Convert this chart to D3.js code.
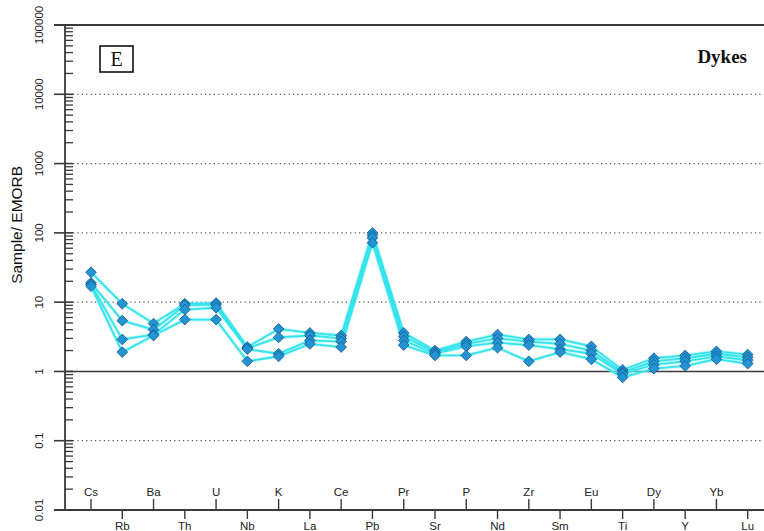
<!DOCTYPE html>
<html>
<head>
<meta charset="utf-8">
<script src="https://cdn.jsdelivr.net/npm/d3@7"></script>
<style>
  html, body { margin: 0; padding: 0; background: #fff; }
  svg { display: block; }
</style>
</head>
<body>
<svg id="chart" width="764" height="531"></svg>
<script>
// Spider diagram: trace elements normalised to E-MORB
const elements = ["Cs","Rb","Ba","Th","U","Nb","K","La","Ce","Pb","Pr","Sr","P","Nd","Zr","Sm","Eu","Ti","Dy","Y","Yb","Lu"];

const sample1 = [27, 9.5, 4.9, 9.5, 9.7, 2.25, 4.1, 3.6, 3.3, 100, 3.6, 2.0, 2.7, 3.4, 2.9, 2.9, 2.3, 1.05, 1.55, 1.7, 1.95, 1.75];
const sample2 = [19, 5.4, 4.0, 9.0, 9.2, 2.15, 3.1, 3.3, 3.0, 92, 3.2, 1.9, 2.5, 3.0, 2.7, 2.5, 2.0, 0.97, 1.4, 1.55, 1.8, 1.6];
const sample3 = [18, 2.9, 3.4, 7.8, 8.3, 2.1, 1.8, 2.8, 2.7, 85, 2.8, 1.8, 2.3, 2.6, 2.4, 2.1, 1.8, 0.92, 1.25, 1.4, 1.65, 1.45];
const sample4 = [17, 1.9, 3.3, 5.6, 5.6, 1.4, 1.65, 2.5, 2.25, 72, 2.4, 1.7, 1.7, 2.2, 1.4, 1.9, 1.5, 0.82, 1.1, 1.2, 1.5, 1.3];
const samples = [sample1, sample2, sample3, sample4];

const yTickValues = [0.01, 0.1, 1, 10, 100, 1000, 10000, 100000];
const yTickLabels = ["0.01", "0.1", "1", "10", "100", "1000", "10000", "100000"];
const gridValues = [0.1, 10, 100, 1000, 10000];

const panelLabel = "E";
const groupLabel = "Dykes";
const yTitle = "Sample/ EMORB";

const svg = d3.select("#chart");
const axisColor = "#3a3a3a";

const x = d3.scalePoint().domain(elements).range([91, 747.7]);
const y = d3.scaleLog().domain([0.01, 100000]).range([510, 25]);

const plotLeft = 65, plotRight = 764;

// dotted grid lines
svg.append("g").selectAll("line").data(gridValues).join("line")
  .attr("x1", 73).attr("x2", plotRight)
  .attr("y1", d => y(d)).attr("y2", d => y(d))
  .attr("stroke", "#555").attr("stroke-width", 1.2)
  .attr("stroke-dasharray", "1.2,3.2");

// reference line at 1
svg.append("line")
  .attr("x1", plotLeft).attr("x2", plotRight)
  .attr("y1", y(1)).attr("y2", y(1))
  .attr("stroke", axisColor).attr("stroke-width", 1.6);

// frame lines (top and bottom)
[100000, 0.01].forEach(v => {
  svg.append("line")
    .attr("x1", 54).attr("x2", plotRight)
    .attr("y1", y(v)).attr("y2", y(v))
    .attr("stroke", axisColor).attr("stroke-width", 1.8);
});

// y axis line
svg.append("line")
  .attr("x1", plotLeft).attr("x2", plotLeft)
  .attr("y1", y(100000)).attr("y2", y(0.01))
  .attr("stroke", axisColor).attr("stroke-width", 1.8);

// major ticks
svg.append("g").selectAll("line").data(yTickValues).join("line")
  .attr("x1", 54).attr("x2", 73)
  .attr("y1", d => y(d)).attr("y2", d => y(d))
  .attr("stroke", axisColor).attr("stroke-width", 1.6);

// minor ticks
const minor = [];
yTickValues.slice(0, -1).forEach(v => {
  for (let k = 2; k <= 9; k++) minor.push(v * k);
});
svg.append("g").selectAll("line").data(minor).join("line")
  .attr("x1", plotLeft).attr("x2", 73)
  .attr("y1", d => y(d)).attr("y2", d => y(d))
  .attr("stroke", axisColor).attr("stroke-width", 1.3);

// y tick labels (rotated)
svg.append("g").selectAll("text").data(yTickValues).join("text")
  .attr("transform", d => `translate(43,${y(d)}) rotate(-90)`)
  .attr("text-anchor", "middle")
  .attr("font-family", "Liberation Sans, Arial, sans-serif")
  .attr("font-size", 11.5)
  .attr("fill", "#222")
  .text((d, i) => yTickLabels[i]);

// y title
svg.append("text")
  .attr("transform", `translate(22,${y(100) - 8}) rotate(-90)`)
  .attr("text-anchor", "middle")
  .attr("font-family", "Liberation Sans, Arial, sans-serif")
  .attr("font-size", 15.5)
  .attr("fill", "#111")
  .text(yTitle);

// x ticks and labels, alternating above / below the bottom line
const xg = svg.append("g");
elements.forEach((el, i) => {
  const up = i % 2 === 0;
  const base = y(0.01);
  xg.append("line")
    .attr("x1", x(el)).attr("x2", x(el))
    .attr("y1", base).attr("y2", up ? base - 11 : base + 9)
    .attr("stroke", axisColor).attr("stroke-width", 1.4);
  xg.append("text")
    .attr("x", x(el))
    .attr("y", up ? base - 14 : base + 20)
    .attr("text-anchor", "middle")
    .attr("font-family", "Liberation Sans, Arial, sans-serif")
    .attr("font-size", 11.5)
    .attr("fill", "#222")
    .text(el);
});

// sample lines
const line = d3.line()
  .x((d, i) => x(elements[i]))
  .y(d => y(d));

const lg = svg.append("g");
samples.forEach(s => {
  lg.append("path").datum(s)
    .attr("d", line)
    .attr("fill", "none")
    .attr("stroke", "#9af3f5")
    .attr("stroke-opacity", 0.6)
    .attr("stroke-width", 3.6)
    .attr("stroke-linejoin", "round");
});
samples.forEach(s => {
  lg.append("path").datum(s)
    .attr("d", line)
    .attr("fill", "none")
    .attr("stroke", "#34e3ec")
    .attr("stroke-width", 1.8)
    .attr("stroke-linejoin", "round");
});

// diamond markers
const diamond = d3.symbol().type(d3.symbolSquare).size(58);
const mg = svg.append("g");
samples.forEach(s => {
  mg.selectAll(null).data(s).join("path")
    .attr("d", diamond)
    .attr("transform", (d, i) => `translate(${x(elements[i])},${y(d)}) rotate(45)`)
    .attr("fill", "#2393d2")
    .attr("stroke", "#145f95")
    .attr("stroke-width", 0.8);
});

// panel letter in a box
svg.append("rect")
  .attr("x", 100).attr("y", 46).attr("width", 33).attr("height", 26)
  .attr("fill", "none").attr("stroke", "#111").attr("stroke-width", 1.6);
svg.append("text")
  .attr("x", 116.5).attr("y", 66)
  .attr("text-anchor", "middle")
  .attr("font-family", "Liberation Serif, Times New Roman, serif")
  .attr("font-size", 20)
  .attr("fill", "#111")
  .text(panelLabel);

// group label
svg.append("text")
  .attr("x", 747).attr("y", 63)
  .attr("text-anchor", "end")
  .attr("font-family", "Liberation Serif, Times New Roman, serif")
  .attr("font-weight", "bold")
  .attr("font-size", 19)
  .attr("fill", "#111")
  .text(groupLabel);
</script>
</body>
</html>
